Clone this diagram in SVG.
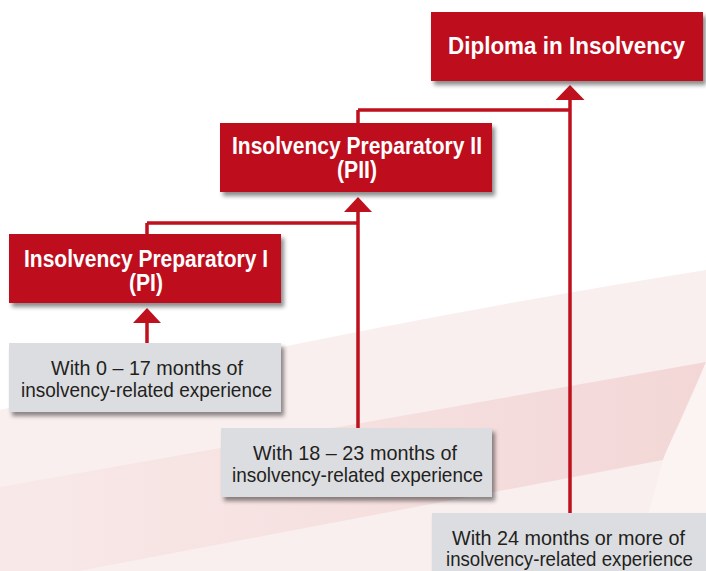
<svg xmlns="http://www.w3.org/2000/svg" width="706" height="571" viewBox="0 0 706 571">
  <defs>
    <filter id="shadow" x="-10%" y="-20%" width="125%" height="150%">
      <feDropShadow dx="3" dy="4" stdDeviation="2" flood-color="#000" flood-opacity="0.45"/>
    </filter>
    <linearGradient id="band" x1="0" y1="0" x2="1" y2="0">
      <stop offset="0" stop-color="#f8e9e8"/>
      <stop offset="1" stop-color="#f3d7d7"/>
    </linearGradient>
    <style>
      .red { fill: #be111d; filter: url(#shadow); }
      .grey { fill: #dcdde0; filter: url(#shadow); }
      .title { font-family: "Liberation Sans", Arial, sans-serif; font-weight: bold; font-size: 23px; fill: #ffffff; }
      .body { font-family: "Liberation Sans", Arial, sans-serif; font-size: 21px; fill: #231f20; }
      .line { fill: none; stroke: #be111d; stroke-width: 3.5; }
      .head { fill: #be111d; }
    </style>
  </defs>

  <rect x="0" y="0" width="706" height="571" fill="#ffffff"/>
  <g id="background">
    <path d="M0,410 Q330,330 706,270 L706,571 L0,571 Z" fill="#f9efee"/>
    <path d="M0,487 L706,362 L663,460 L0,586 Z" fill="url(#band)"/>
    <path d="M706,362 C692,400 672,436 663,460 L633,571 L706,571 Z" fill="#fbf4f3"/>
  </g>

  <g id="connectors">
    <path class="line" d="M570,513 V98 M358,110 H570 M358,123 V110"/>
    <path class="line" d="M358,428 V210 M147,223 H358 M147,234 V223"/>
    <path class="line" d="M147,345 V321"/>
    <polygon class="head" points="570,85 555.5,100 584.5,100"/>
    <polygon class="head" points="358,197 344,212 372,212"/>
    <polygon class="head" points="147,308 133,323 161,323"/>
  </g>

  <g id="diploma">
    <rect class="red" x="431" y="12" width="272" height="69"/>
    <text class="title" x="448" y="54" textLength="237" lengthAdjust="spacingAndGlyphs">Diploma in Insolvency</text>
  </g>

  <g id="pii">
    <rect class="red" x="220" y="123" width="272" height="69"/>
    <text class="title" x="232" y="153.5" textLength="250" lengthAdjust="spacingAndGlyphs">Insolvency Preparatory II</text>
    <text class="title" x="337" y="178" textLength="40" lengthAdjust="spacingAndGlyphs">(PII)</text>
  </g>

  <g id="pi">
    <rect class="red" x="9" y="234" width="272" height="69"/>
    <text class="title" x="24" y="266.5" textLength="244" lengthAdjust="spacingAndGlyphs">Insolvency Preparatory I</text>
    <text class="title" x="129" y="291" textLength="34" lengthAdjust="spacingAndGlyphs">(PI)</text>
  </g>

  <g id="exp-0-17">
    <rect class="grey" x="9" y="343" width="272" height="69"/>
    <text class="body" x="51" y="374.5" textLength="192" lengthAdjust="spacingAndGlyphs">With 0 – 17 months of</text>
    <text class="body" x="21" y="396.5" textLength="251" lengthAdjust="spacingAndGlyphs">insolvency-related experience</text>
  </g>

  <g id="exp-18-23">
    <rect class="grey" x="221" y="428" width="271" height="69"/>
    <text class="body" x="253" y="459.5" textLength="204" lengthAdjust="spacingAndGlyphs">With 18 – 23 months of</text>
    <text class="body" x="232" y="481.5" textLength="251" lengthAdjust="spacingAndGlyphs">insolvency-related experience</text>
  </g>

  <g id="exp-24">
    <rect class="grey" x="432" y="513" width="275" height="69"/>
    <text class="body" x="452" y="544.5" textLength="233" lengthAdjust="spacingAndGlyphs">With 24 months or more of</text>
    <text class="body" x="446" y="566" textLength="247" lengthAdjust="spacingAndGlyphs">insolvency-related experience</text>
  </g>
</svg>
